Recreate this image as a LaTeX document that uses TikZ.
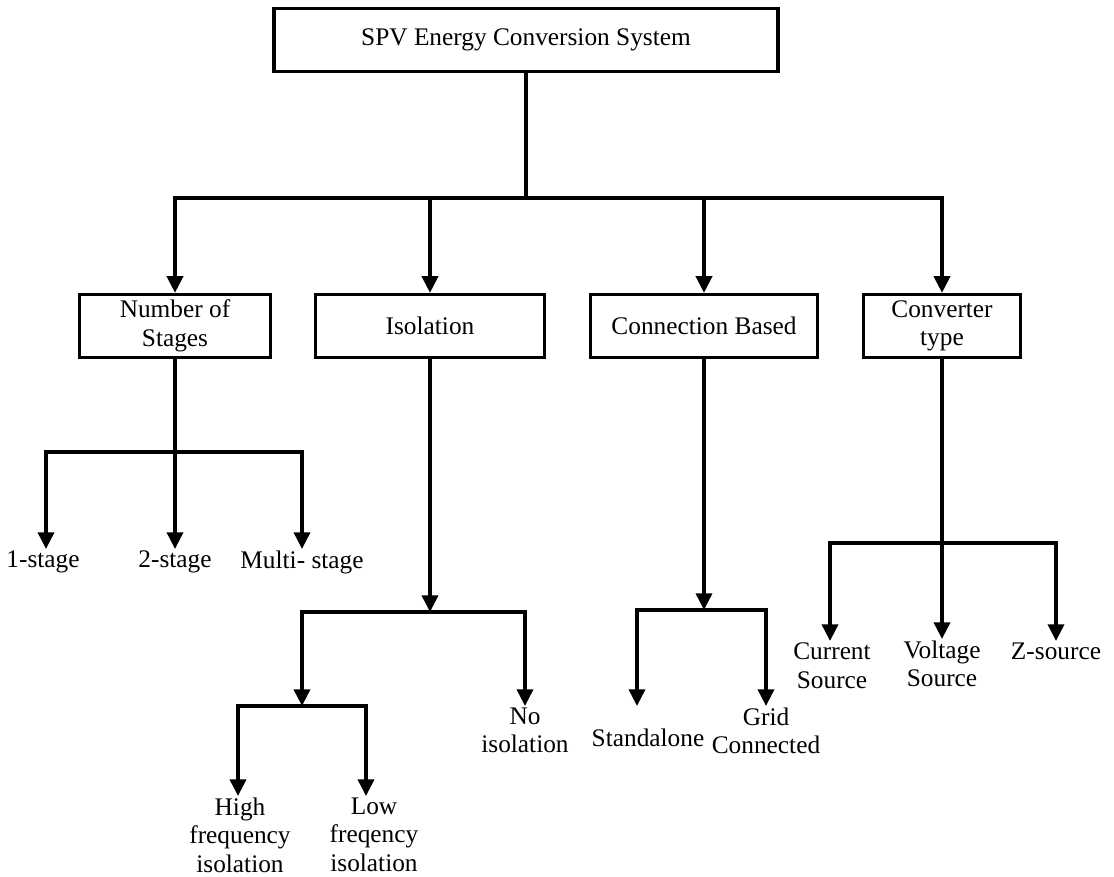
\documentclass[tikz,border=0pt]{standalone}
\usepackage{fontspec}
\setmainfont{Liberation Serif}
\usetikzlibrary{arrows.meta}

\tikzset{
  blk/.style={draw, line width=2.7pt, minimum height=47pt, align=center, inner sep=2pt},
  leaf/.style={anchor=north, align=center, inner sep=1pt},
  link/.style={line width=2.7pt, line cap=rect},
  arr/.style={line width=2.7pt, -{Triangle[width=12pt,length=12.5pt]}},
}

\begin{document}
\begin{tikzpicture}[x=0.75pt, y=-0.75pt, font=\fontsize{19}{21.5}\selectfont]
\useasboundingbox (0,0) rectangle (1114,877);
%		    \draw[help lines] (0,0) grid[step=50] (1114,877);
\node[blk, minimum width=378pt] (spv) at (526,40) {SPV Energy Conversion System};
\node[blk, minimum width=143pt] (ns) at (175,326) {Number of\\Stages};
\node[blk, minimum width=172pt] (iso) at (430,326) {Isolation};
\node[blk, minimum width=170pt] (cb) at (704,326) {Connection Based};
\node[blk, minimum width=118pt] (cv) at (942,326) {Converter\\type};
\coordinate (mb) at (526,198);
\draw[link] (spv.south) -- (mb);
\draw[link] (ns.north |- mb) -- (cv.north |- mb);
\foreach \n in {ns,iso,cb,cv}
  \draw[arr] (\n.north |- mb) -- (\n.north);

% number of stages
\node[leaf] (s1) at (43,549) {1-stage};
\node[leaf] (s2) at (175,549) {2-stage};
\node[leaf] (s3) at (302,549) {Multi- stage};
\coordinate (sbL) at (46,452);
\coordinate (sbR) at (302,452);
\draw[link] (sbL) -- (sbR);
\draw[arr] (ns.south) -- (s2.north);
\draw[arr] (sbL) -- (sbL |- s1.north);
\draw[arr] (sbR) -- (s3.north);

% isolation
\node[leaf] (hf) at (240,796) {High\\frequency\\isolation};
\node[leaf] (lf) at (374,796) {Low\\freqency\\isolation};
\node[leaf] (ni) at (525,706) {No\\isolation};
\coordinate (ibL) at (302,612);
\coordinate (ibR) at (525,612);
\coordinate (hbL) at (238,706);
\coordinate (hbR) at (366,706);
\draw[arr] (iso.south) -- (iso.south |- ibL);
\draw[link] (ibL) -- (ibR);
\draw[arr] (ibL) -- (ibL |- hbL);
\draw[link] (hbL) -- (hbR);
\draw[arr] (hbL) -- (hbL |- hf.north);
\draw[arr] (hbR) -- (hbR |- lf.north);
\draw[arr] (ibR) -- (ni.north);

% connection based
\node[leaf] (sa) at (648,727) {Standalone};
\node[leaf] (gc) at (766,706) {Grid\\Connected};
\coordinate (cbL) at (637,610);
\coordinate (cbR) at (766,610);
\coordinate (saTip) at (637,706);
\draw[arr] (cb.south) -- (cb.south |- cbL);
\draw[link] (cbL) -- (cbR);
\draw[arr] (cbL) -- (saTip);
\draw[arr] (cbR) -- (gc.north);

% converter type
\node[leaf] (cs) at (832,641) {Current\\Source};
\node[leaf] (vs) at (942,639) {Voltage\\Source};
\node[leaf] (zs) at (1056,641) {Z-source};
\coordinate (vbL) at (830,543);
\coordinate (vbR) at (1056,543);
\draw[link] (vbL) -- (vbR);
\draw[arr] (cv.south) -- (vs.north);
\draw[arr] (vbL) -- (vbL |- cs.north);
\draw[arr] (vbR) -- (zs.north);
\end{tikzpicture}
\end{document}
